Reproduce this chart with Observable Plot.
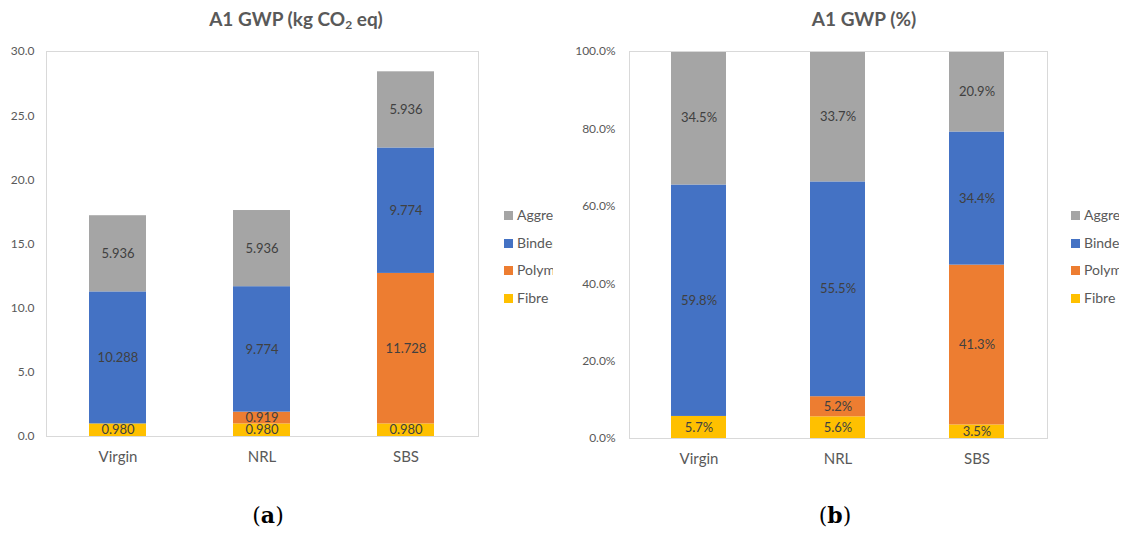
<!DOCTYPE html>
<html>
<head>
<meta charset="utf-8">
<script src="https://cdn.jsdelivr.net/npm/d3@7"></script>
<script src="https://cdn.jsdelivr.net/npm/@observablehq/plot@0.6"></script>
<style>
  html, body { margin: 0; padding: 0; background: #fff; }
  #page { position: relative; width: 1126px; height: 534px; overflow: hidden; font-family: Lato, "Open Sans", sans-serif; }
  .title { position: absolute; top: 7px; width: 400px; text-align: center; font-weight: bold; font-size: 19px; color: #595959; white-space: nowrap; }
  .title sub { font-size: 12px; vertical-align: -3px; line-height: 0; }
  .chart { position: absolute; top: 36px; }
  .legend { position: absolute; overflow: hidden; white-space: nowrap; font-size: 14px; color: #595959; }
  .legend .row { position: absolute; left: 0; height: 16px; line-height: 16px; }
  .legend .sw { display: inline-block; width: 9px; height: 9px; margin-right: 4px; }
  .caption { position: absolute; top: 502px; width: 100px; text-align: center; font-family: "DejaVu Serif", "Liberation Serif", serif; font-size: 22px; color: #000; }
</style>
</head>
<body>
<div id="page">
  <div class="title" style="left:96px;">A1 GWP (kg CO<sub>2</sub> eq)</div>
  <div class="title" style="left:664px;">A1 GWP (%)</div>
  <div id="left" class="chart" style="left:0;"></div>
  <div id="right" class="chart" style="left:560px;"></div>
  <div id="legendLeft" class="legend" style="left:504px;top:200px;width:49px;height:110px;"></div>
  <div id="legendRight" class="legend" style="left:1071px;top:200px;width:48px;height:110px;"></div>
  <div class="caption" style="left:218px;">(<b>a</b>)</div>
  <div class="caption" style="left:785px;">(<b>b</b>)</div>
</div>
<script>
// Mix designs and material groups
const categories = ["Virgin", "NRL", "SBS"];
const series = ["Fibre", "Polymer", "Binder", "Aggregate"];
const colors = ["#ffc000", "#ed7d31", "#4472c4", "#a5a5a5"];

// A1 global warming potential, kg CO2 eq
const fibreKg = [0.980, 0.980, 0.980];
const polymerKg = [0, 0.919, 11.728];
const binderKg = [10.288, 9.774, 9.774];
const aggregateKg = [5.936, 5.936, 5.936];

// Share of A1 global warming potential, %
const fibrePct = [5.7, 5.6, 3.5];
const polymerPct = [0, 5.2, 41.3];
const binderPct = [59.8, 55.5, 34.4];
const aggregatePct = [34.5, 33.7, 20.9];

// Axis ticks
const kgTicks = [0, 5, 10, 15, 20, 25, 30];
const pctTicks = [0, 20, 40, 60, 80, 100];

function rows(cols) {
  const out = [];
  categories.forEach((cat, i) => {
    series.forEach((s, j) => out.push({cat, series: s, value: cols[j][i]}));
  });
  return out;
}

const kgData = rows([fibreKg, polymerKg, binderKg, aggregateKg]);
const pctData = rows([fibrePct, polymerPct, binderPct, aggregatePct]);

function stackedChart({data, width, height, marginLeft, marginRight, yDomain, ticks, tickFormat, tickPadding, labelFormat}) {
  return Plot.plot({
    width, height,
    marginLeft, marginRight, marginTop: 15, marginBottom: 40,
    style: {fontFamily: "Lato, 'Open Sans', sans-serif", color: "#595959", background: "white"},
    x: {domain: categories, paddingInner: 0.604, paddingOuter: 0.302, label: null},
    y: {domain: yDomain, label: null},
    color: {domain: series, range: colors},
    marks: [
      Plot.barY(data, {x: "cat", y: "value", fill: "series", clip: true}),
      Plot.frame({stroke: "#d9d9d9"}),
      Plot.text(data, Plot.stackY({
        x: "cat", y: "value",
        filter: d => d.value > 0,
        text: d => labelFormat(d.value),
        fill: "#404040", fontSize: 13
      })),
      Plot.axisY({ticks, tickSize: 0, tickPadding, tickFormat, fontSize: 12, label: null}),
      Plot.axisX({tickSize: 0, tickPadding: 15, fontSize: 15, label: null})
    ]
  });
}

document.getElementById("left").append(stackedChart({
  data: kgData, width: 560, height: 440, marginLeft: 46, marginRight: 82,
  yDomain: [0, 30], ticks: kgTicks, tickFormat: d => d.toFixed(1), tickPadding: 12,
  labelFormat: v => v.toFixed(3)
}));

document.getElementById("right").append(stackedChart({
  data: pctData, width: 566, height: 442, marginLeft: 69, marginRight: 79,
  yDomain: [0, 100], ticks: pctTicks, tickFormat: d => d.toFixed(1) + "%", tickPadding: 14,
  labelFormat: v => v.toFixed(1) + "%"
}));

// Legends list the groups from top of stack to bottom
function legend(el) {
  const order = series.slice().reverse();
  order.forEach((s, i) => {
    const row = document.createElement("div");
    row.className = "row";
    row.style.top = (7 + i * 27.5) + "px";
    const sw = document.createElement("span");
    sw.className = "sw";
    sw.style.background = colors[series.indexOf(s)];
    row.append(sw, document.createTextNode(s));
    el.append(row);
  });
}
legend(document.getElementById("legendLeft"));
legend(document.getElementById("legendRight"));
</script>
</body>
</html>
